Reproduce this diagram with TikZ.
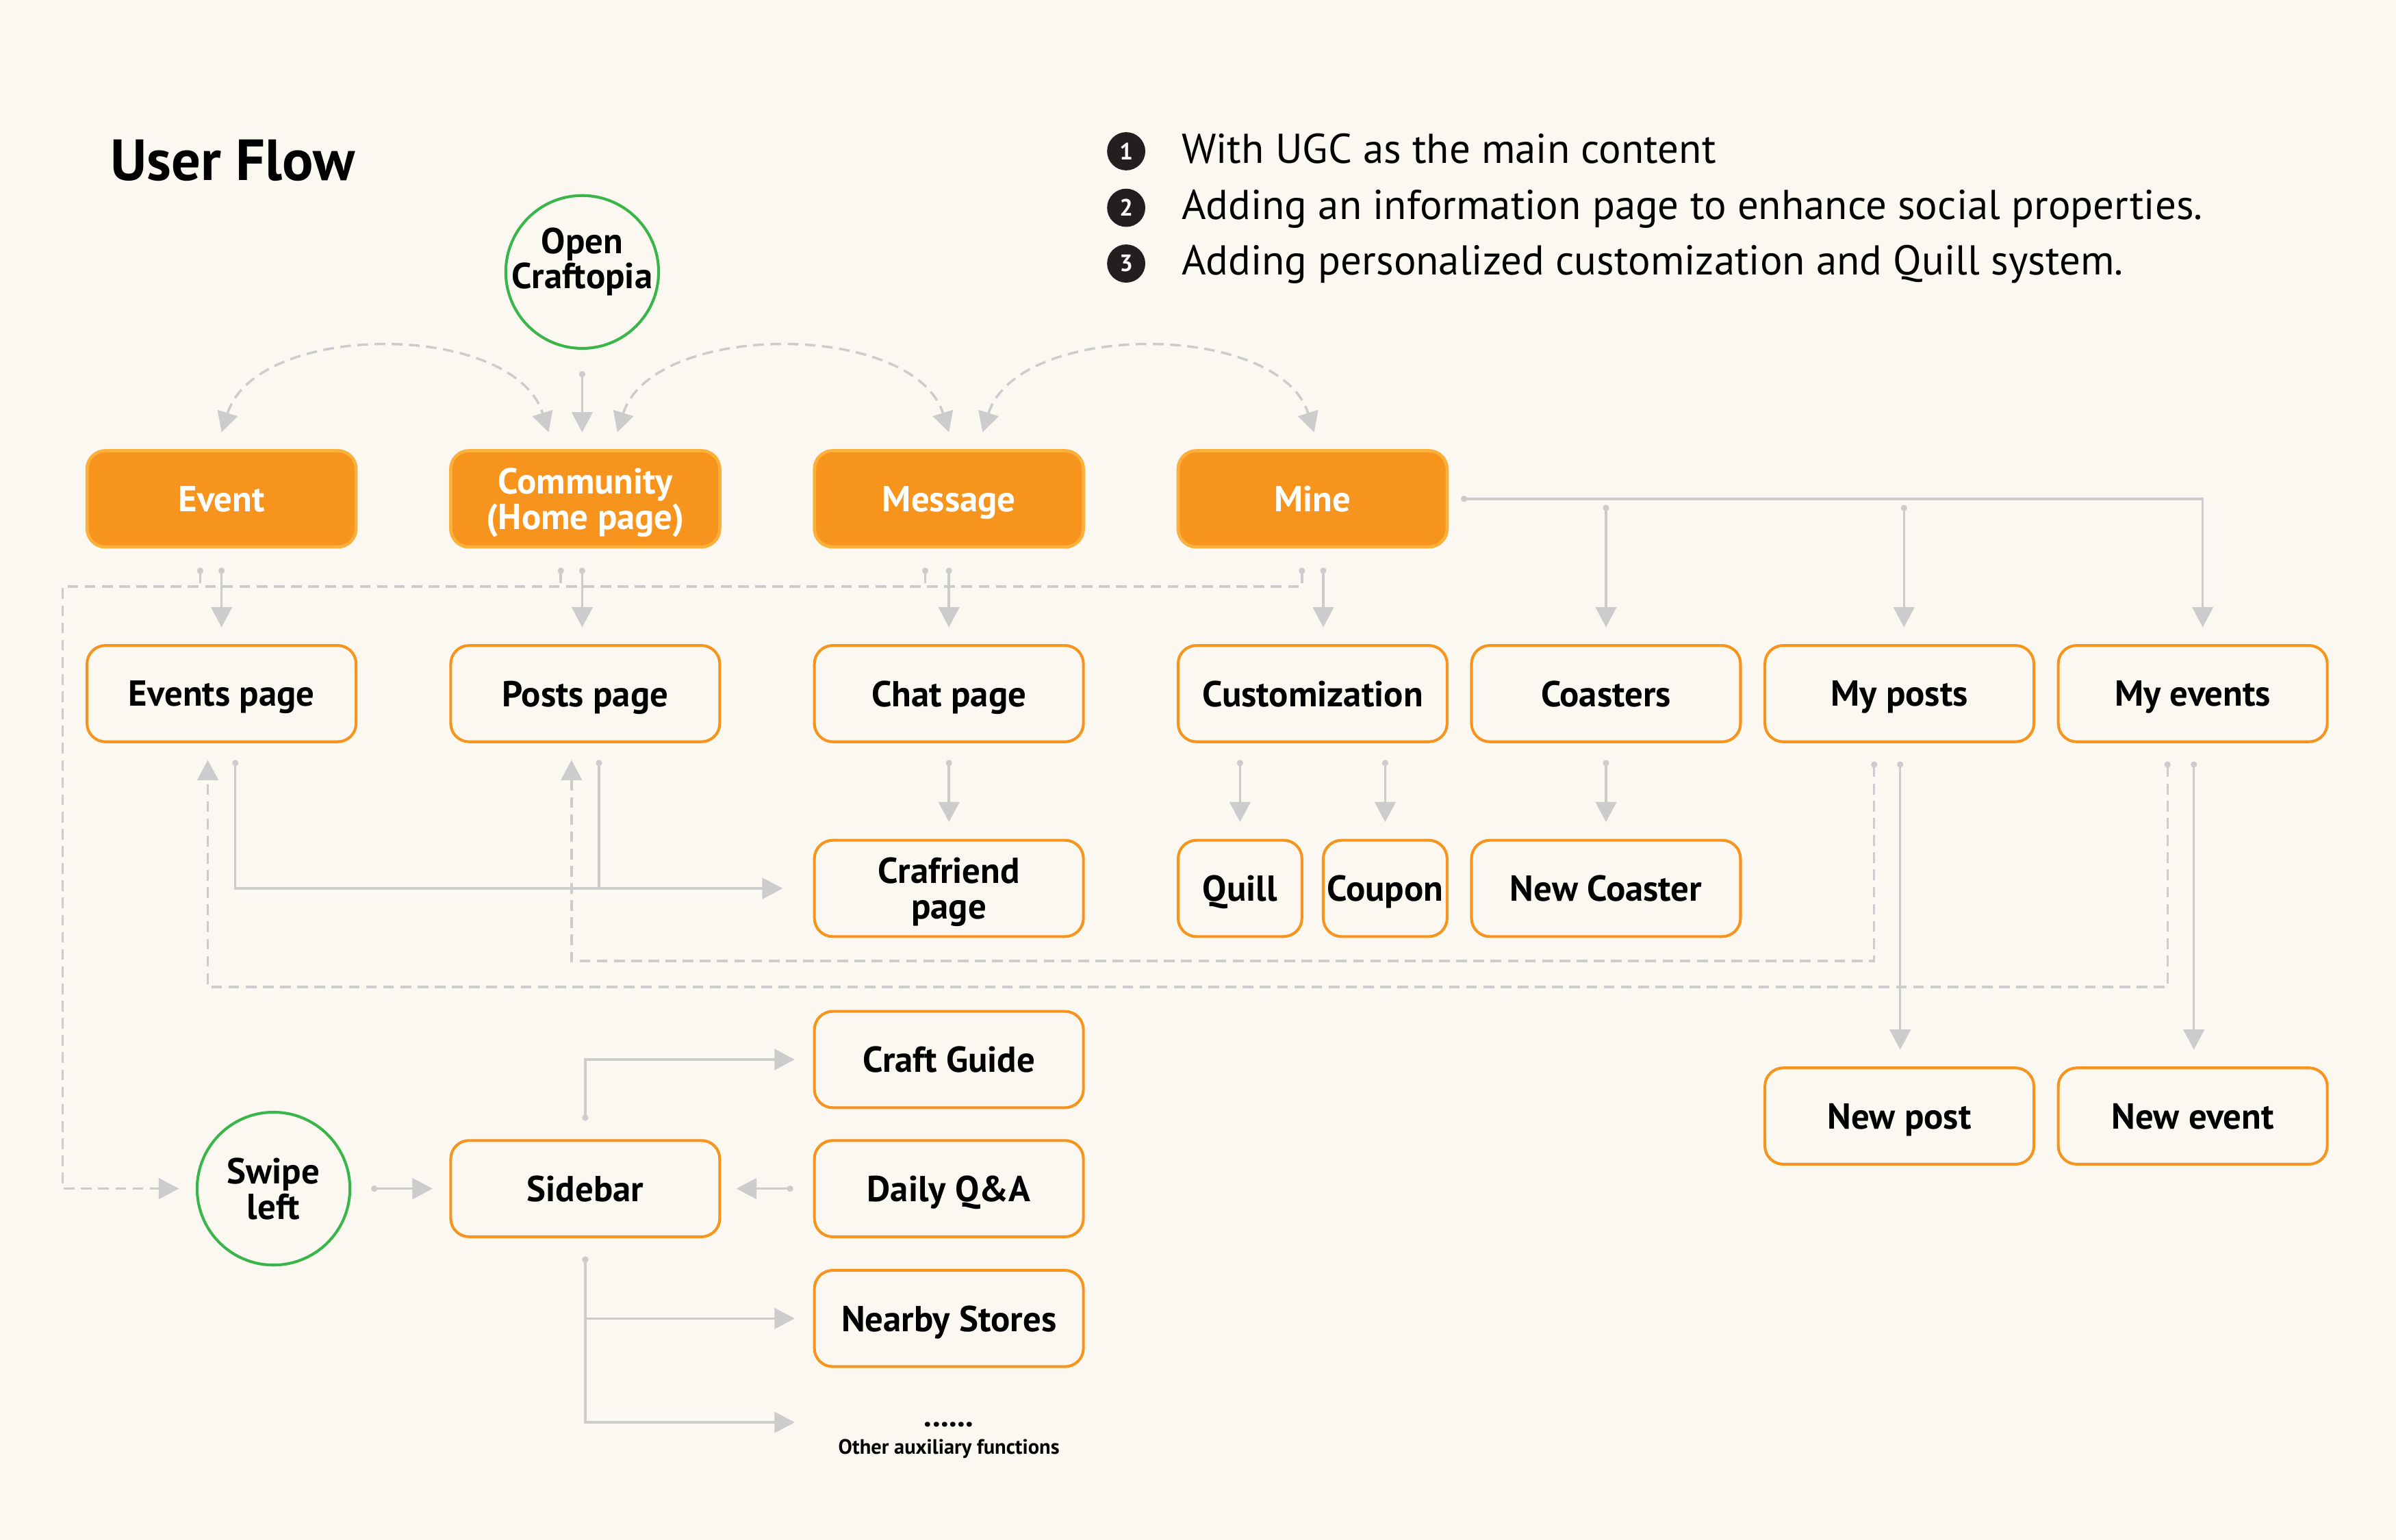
\documentclass[tikz,border=0pt]{standalone}
\usepackage{fontspec}
\setmainfont{PT Sans}
\usetikzlibrary{arrows.meta,calc}
\definecolor{bg}{RGB}{250,248,240}
\definecolor{org}{RGB}{247,148,29}
\definecolor{orgl}{RGB}{251,176,59}
\definecolor{lg}{RGB}{204,204,204}
\definecolor{grn}{RGB}{58,181,74}
\definecolor{ink}{RGB}{35,31,32}
\begin{document}
\begin{tikzpicture}[x=0.025cm,y=-0.025cm,
  lbl/.style={font=\fontsize{16.8}{16.5}\selectfont\bfseries, align=center, inner sep=0pt, text depth=0pt},
  tab/.style={lbl, rectangle, rounded corners=0.3cm, fill=org, draw=orgl, line width=1.5pt, minimum width=4.4cm, minimum height=1.575cm, text=white},
  page/.style={lbl, rectangle, rounded corners=0.3cm, draw=org, line width=1.3pt, minimum width=4.4cm, minimum height=1.575cm, text=black},
  smallpage/.style={page, minimum width=2.025cm},
  startnode/.style={circle, draw=grn, line width=1.3pt, minimum size=2.5cm, inner sep=0pt},
  bul/.style={circle, fill=ink, minimum size=0.625cm, inner sep=0pt, text=white, font=\fontsize{11}{11}\selectfont\bfseries},
  bultext/.style={anchor=base west, inner sep=0pt, font=\fontsize{19.4}{20}\selectfont},
  ln/.style={draw=lg, line width=1.1pt},
  dl/.style={ln, dash pattern=on 5pt off 3pt},
  ar/.style={{Circle[length=0.1cm]}-{Triangle[length=0.33cm,width=0.34cm]}},
  dn/.style={{Circle[length=0.1cm]}-},
  bi/.style={{Triangle[length=0.33cm,width=0.34cm]}-{Triangle[length=0.33cm,width=0.34cm]}}
]
\useasboundingbox (0,0) rectangle (1568,1008);
\fill[bg] (0,0) rectangle (1568,1008);

% title and notes
\node[anchor=base west, inner sep=0pt, font=\fontsize{27}{30}\selectfont\bfseries] (title) at (72,118) {User Flow};
\node[bul] (b1) at (737,99) {1};
\node[bul] (b2) at (737,136) {2};
\node[bul] (b3) at (737,172.5) {3};
\node[bultext] (t1) at (773,106.7) {With UGC as the main content};
\node[bultext] (t2) at (773,143.4) {Adding an information page to enhance social properties.};
\node[bultext] (t3) at (773,180) {Adding personalized customization and Quill system.};

% start nodes
\node[startnode] (open) at (381,178) {};
\node[lbl] (opent) at (381,169) {Open\\Craftopia};
\node[startnode] (swipe) at (179,778) {};
\node[lbl] (swipet) at (179,778) {Swipe\\left};

% tabs
\node[tab] (ev) at (145,326.5) {Event};
\node[tab] (com) at (383,326.5) {Community\\(Home page)};
\node[tab] (msg) at (621,326.5) {Message};
\node[tab] (mine) at (859,326.5) {Mine};

% row 2
\node[page] (evp) at (145,454) {Events page};
\node[page] (pp) at (383,454) {Posts page};
\node[page] (chat) at (621,454) {Chat page};
\node[page] (cust) at (859,454) {Customization};
\node[page] (coast) at (1051,454) {Coasters};
\node[page] (myp) at (1243,454) {My posts};
\node[page] (mye) at (1435,454) {My events};

% row 3
\node[page] (craf) at (621,581.5) {Crafriend\\page};
\node[smallpage] (quill) at (811.5,581.5) {Quill};
\node[smallpage] (coupon) at (906.5,581.5) {Coupon};
\node[page] (newc) at (1051,581.5) {New Coaster};

% sidebar area
\node[page] (cg) at (621,693.5) {Craft Guide};
\node[page] (sidebar) at (383,778) {Sidebar};
\node[page] (dqa) at (621,778) {Daily Q\&A};
\node[page] (ns) at (621,863) {Nearby Stores};
\node[anchor=base, inner sep=0pt, font=\fontsize{15}{15}\selectfont\bfseries] (dots) at (621,934) {......};
\node[inner sep=0pt, font=\fontsize{9.7}{10}\selectfont\bfseries] (oaf) at (621,948.5) {Other auxiliary functions};

% new post/event
\node[page] (newp) at (1243,730.5) {New post};
\node[page] (newe) at (1435,730.5) {New event};

% open -> community
\draw[ln, ar] ($(open.south)+(0,14)$) -- ($(com.north)+(-2,-11)$);

% dashed arcs between tabs
\draw[dl, bi] ($(ev.north)+(0,-11)$) .. controls +(23,-73) and +(-23,-73) .. ($(com.north)+(-24,-11)$);
\draw[dl, bi] ($(com.north)+(21,-11)$) .. controls +(23,-73) and +(-23,-73) .. ($(msg.north)+(0,-11)$);
\draw[dl, bi] ($(msg.north)+(22,-11)$) .. controls +(23,-73) and +(-23,-73) .. ($(mine.north)+(1,-11)$);

% tabs -> pages
\draw[ln, ar] ($(ev.south)+(0,12.5)$) -- ($(evp.north)+(0,-11)$);
\draw[ln, ar] ($(com.south)+(-2,12.5)$) -- ($(pp.north)+(-2,-11)$);
\draw[ln, ar] ($(msg.south)+(0,12.5)$) -- ($(chat.north)+(0,-11)$);
\draw[ln, ar] ($(mine.south)+(7,12.5)$) -- ($(cust.north)+(7,-11)$);

% swipe-left dashed path
\coordinate (swc) at (41,384);
\draw[dl, ar] ($(mine.south)+(-7,12.5)$) |- (swc) |- ($(swipe.west)+(-11,0)$);
\draw[dl, dn] ($(ev.south)+(-14,12.5)$) -- ++(0,13);
\draw[dl, dn] ($(com.south)+(-16,12.5)$) -- ++(0,13);
\draw[dl, dn] ($(msg.south)+(-15.5,12.5)$) -- ++(0,13);

% mine bus
\draw[ln, ar] ($(mine.east)+(8,0)$) -| ($(mye.north)+(6.5,-11)$);
\draw[ln, ar] ($(coast.north |- mine.east)+(0,4)$) -- ($(coast.north)+(0,-11)$);
\draw[ln, ar] ($(myp.north |- mine.east)+(3,4)$) -- ($(myp.north)+(3,-11)$);

% row 2 -> row 3
\draw[ln, ar] ($(chat.south)+(0,11)$) -- ($(craf.north)+(0,-11)$);
\draw[ln, ar] ($(quill.north |- cust.south)+(0,11)$) -- ($(quill.north)+(0,-11)$);
\draw[ln, ar] ($(coupon.north |- cust.south)+(0,11)$) -- ($(coupon.north)+(0,-11)$);
\draw[ln, ar] ($(coast.south)+(0,11)$) -- ($(newc.north)+(0,-11)$);

% events/posts -> crafriend
\coordinate (cj) at ($(craf.west)+(-20,0)$);
\draw[ln, ar] ($(evp.south)+(9,11)$) |- (cj);
\draw[ln, ar] ($(pp.south)+(9,11)$) |- (cj);

% my events / my posts -> events / posts page (dashed)
\draw[dl, ar] ($(mye.south)+(-16.5,12)$) -- ++(0,147.5) -| ($(evp.south)+(-9,11)$);
\draw[dl, ar] ($(myp.south)+(-16.5,12)$) -- ++(0,130.5) -| ($(pp.south)+(-9,11)$);

% new post / new event
\draw[ln, ar] ($(myp.south)+(0.5,12)$) -- ($(newp.north)+(0.5,-11)$);
\draw[ln, ar] ($(mye.south)+(0.7,12)$) -- ($(newe.north)+(0.7,-11)$);

% sidebar
\draw[ln, ar] ($(swipe.east)+(13,0)$) -- ($(sidebar.west)+(-11,0)$);
\draw[ln, ar] ($(dqa.west)+(-13,0)$) -- ($(sidebar.east)+(10,0)$);
\draw[ln, ar] ($(sidebar.north)+(0,-12)$) |- ($(cg.west)+(-12,0)$);
\draw[ln, ar] ($(sidebar.south)+(0,12)$) |- ($(ns.west)+(-12,0)$);
\coordinate (de) at ($(ns.west)+(-12,68)$);
\draw[ln, ar] ($(sidebar.south)+(0,12)$) |- (de);
\end{tikzpicture}
\end{document}
